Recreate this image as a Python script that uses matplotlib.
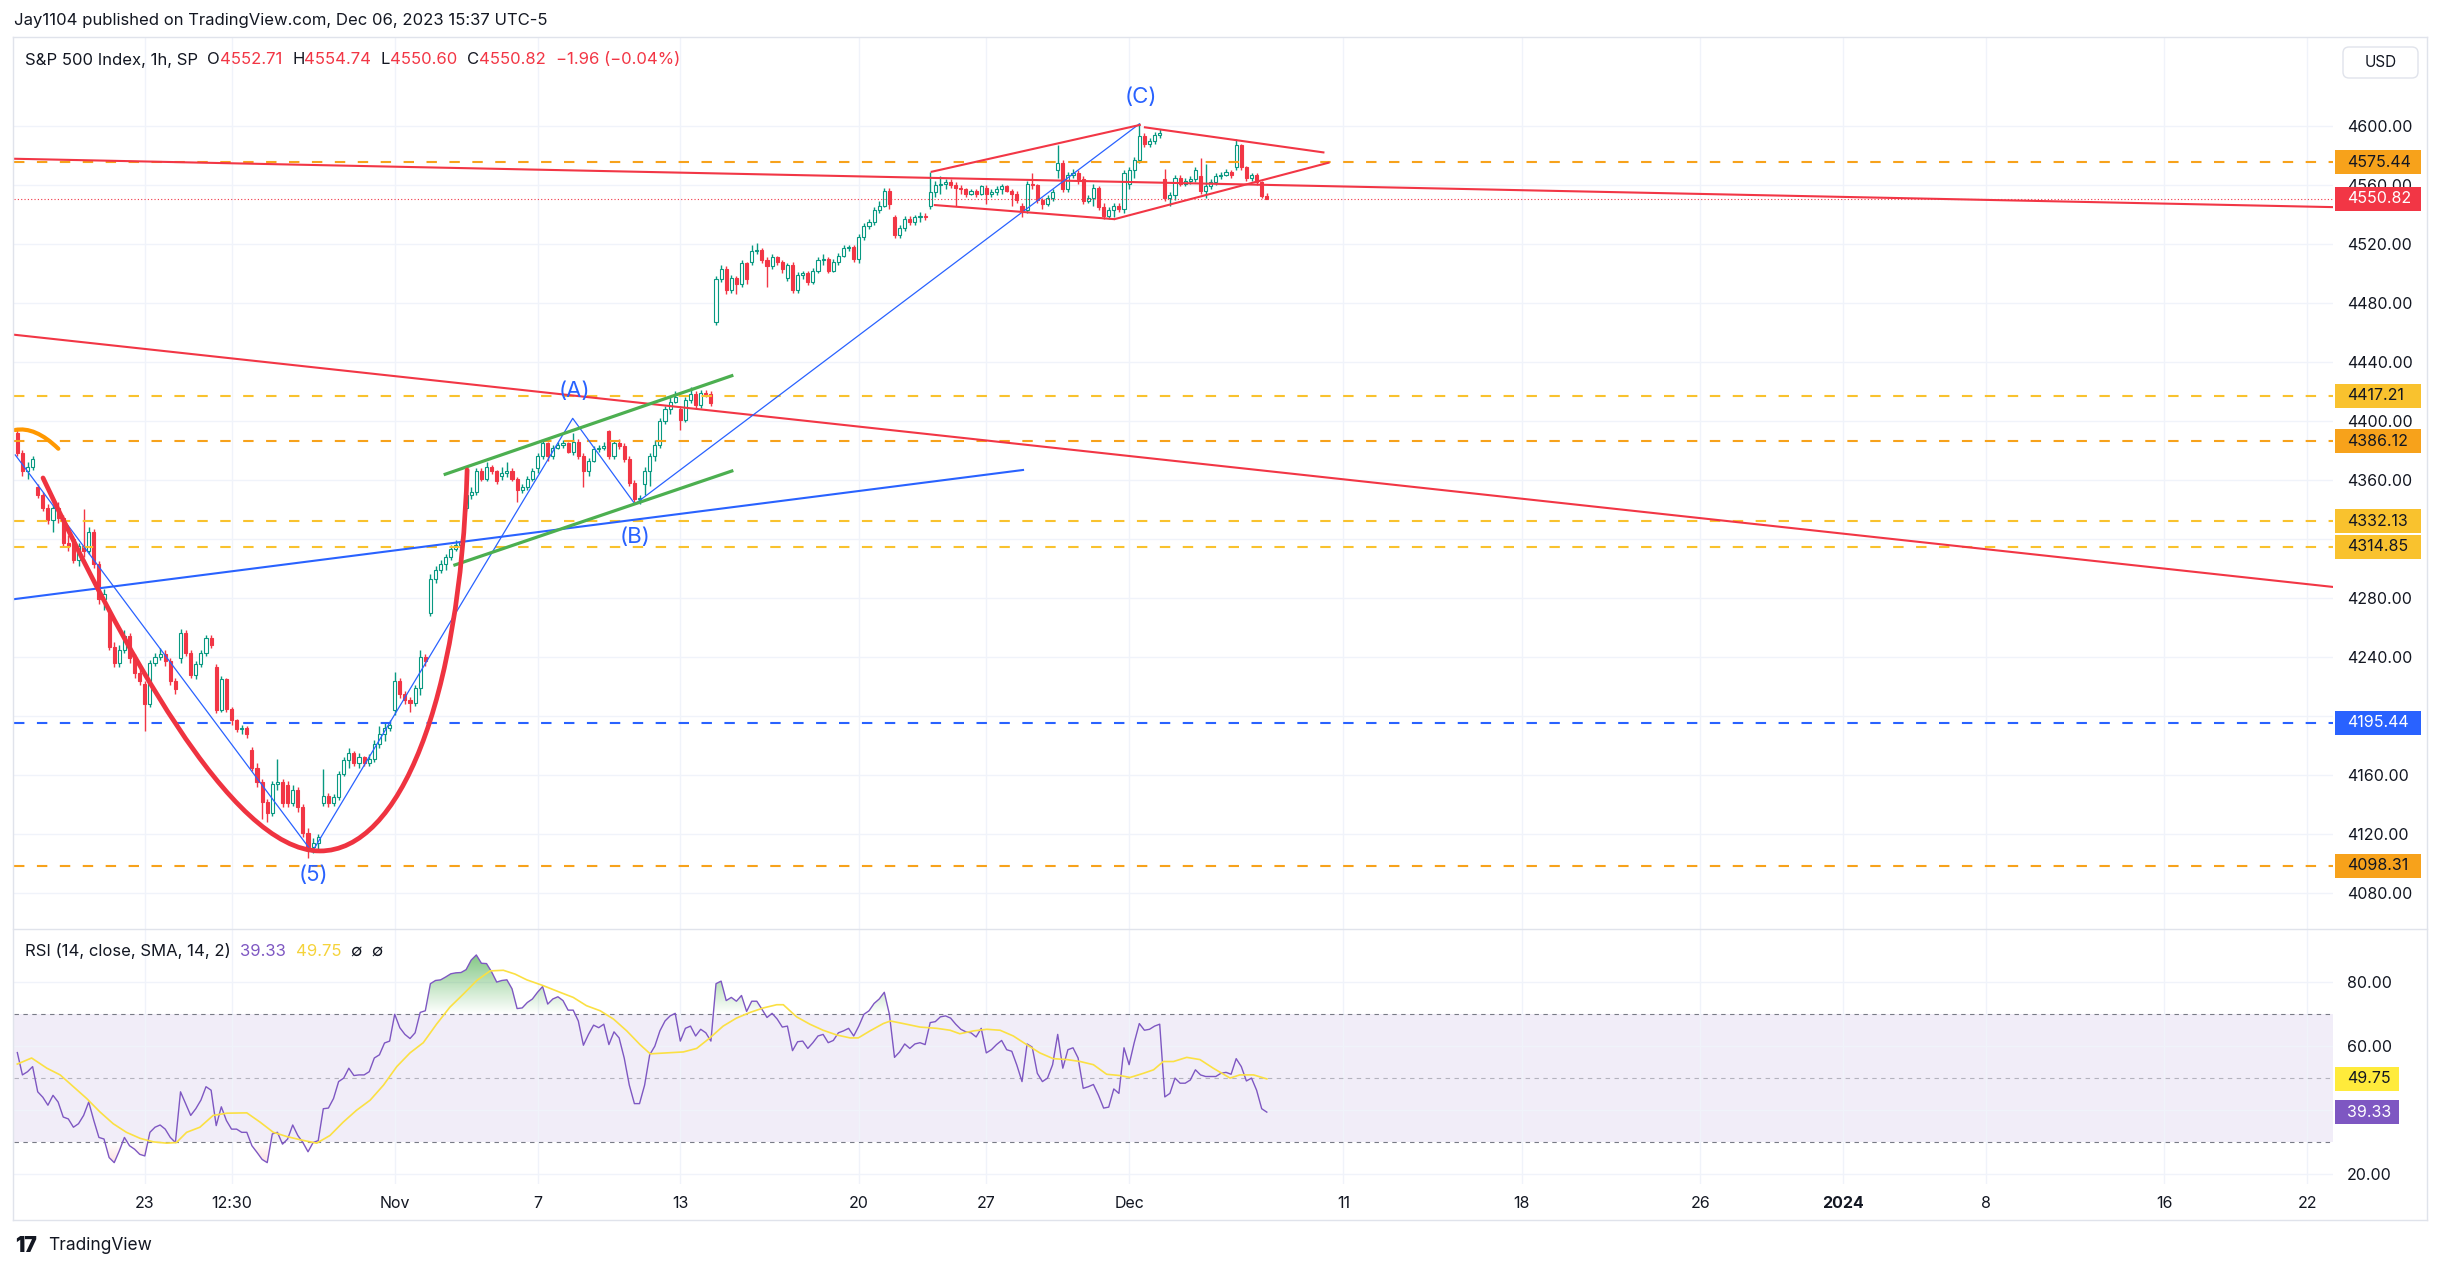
import numpy as np
import matplotlib
matplotlib.use("Agg")
import matplotlib.pyplot as plt
from matplotlib.path import Path
from matplotlib.patches import PathPatch, Rectangle, FancyBboxPatch
from matplotlib.lines import Line2D
from matplotlib.colors import LinearSegmentedColormap
from matplotlib.transforms import blended_transform_factory, IdentityTransform

plt.rcParams['font.family'] = ['Inter', 'DejaVu Sans']

# ---------------- data (x = bar index, Oct 23 09:30 = 0, 1h bars) ----------------
first_bar = -25
bars_per_day = [4, 7, 7, 7, 7, 7, 7, 7, 7, 7, 7, 7, 7, 7, 7, 7, 7, 7,
                7, 7, 7, 7, 7, 7, 7, 7, 7, 4, 7, 7, 7, 7, 7, 7, 7, 7]
day_opens = [4392, 4355, 4320, 4270, 4222, 4239, 4233, 4177, 4153, 4141, 4168, 4204,
             4270, 4341, 4363, 4368, 4379, 4393, 4357, 4408, 4467, 4508, 4497, 4509,
             4510, 4538, 4546, 4557, 4558, 4546, 4570, 4551, 4561, 4564, 4566, 4572]
closes = [
    4378, 4366, 4369, 4374,
    4350, 4341, 4333, 4341, 4334, 4317, 4315,
    4306, 4315, 4312, 4325, 4303, 4279, 4283,
    4247, 4236, 4245, 4254, 4239, 4229, 4224,
    4208, 4236, 4240, 4242, 4237, 4224, 4218,
    4256, 4243, 4228, 4235, 4243, 4253, 4248,
    4204, 4225, 4205, 4197, 4191, 4192, 4188,
    4165, 4155, 4142, 4134, 4154, 4155, 4141,
    4141, 4150, 4138, 4121, 4111, 4114, 4118,
    4146, 4141, 4145, 4161, 4170, 4175, 4168,
    4172, 4168, 4171, 4181, 4188, 4192, 4194,
    4224, 4215, 4211, 4209, 4219, 4240, 4237,
    4293, 4299, 4303, 4308, 4313, 4316, 4318,
    4350, 4352, 4366, 4361, 4369, 4366, 4359,
    4365, 4366, 4361, 4353, 4355, 4361, 4366,
    4376, 4385, 4376, 4382, 4384, 4385, 4379,
    4386, 4376, 4366, 4373, 4381, 4382, 4383,
    4376, 4385, 4383, 4374, 4358, 4347, 4348,
    4366, 4376, 4384, 4400, 4408, 4413, 4416,
    4401, 4414, 4418, 4411, 4419, 4418, 4412,
    4496, 4503, 4489, 4497, 4493, 4507, 4496,
    4515, 4516, 4509, 4505, 4511, 4508, 4503,
    4506, 4489, 4499, 4500, 4494, 4502, 4509,
    4510, 4502, 4508, 4512, 4517, 4518, 4510,
    4525, 4532, 4535, 4543, 4546, 4556, 4547,
    4526, 4531, 4537, 4535, 4538, 4539, 4538,
    4555, 4560, 4561, 4562, 4560, 4558, 4557,
    4554, 4556, 4554, 4559,
    4554, 4555, 4557, 4559, 4556, 4554, 4550,
    4543, 4561, 4560, 4550, 4547, 4551, 4555,
    4575, 4557, 4567, 4568, 4564, 4549, 4551,
    4558, 4545, 4539, 4543, 4546, 4544, 4568,
    4570, 4577, 4593, 4588, 4590, 4594, 4595,
    4551, 4553, 4565, 4561, 4563, 4564, 4570,
    4556, 4559, 4562, 4566, 4567, 4569, 4567,
    4587, 4572, 4565, 4567, 4562, 4552.71, 4550.82,
]
highs = [
    4395, 4380, 4372, 4376,
    4357, 4352, 4344, 4343, 4345, 4336, 4323,
    4322, 4317, 4340, 4328, 4327, 4305, 4286,
    4273, 4250, 4248, 4258, 4256, 4242, 4233,
    4224, 4238, 4243, 4246, 4245, 4239, 4226,
    4259, 4258, 4245, 4237, 4245, 4255, 4255,
    4235, 4227, 4226, 4206, 4198, 4194, 4193,
    4179, 4168, 4157, 4144, 4156, 4171, 4157,
    4156, 4153, 4152, 4140, 4124, 4117, 4120,
    4164, 4148, 4147, 4163, 4172, 4178, 4176,
    4175, 4173, 4174, 4184, 4193, 4196, 4197,
    4230, 4226, 4217, 4213, 4221, 4245, 4242,
    4296, 4302, 4306, 4310, 4316, 4319, 4320,
    4352, 4355, 4368, 4368, 4372, 4370, 4367,
    4369, 4372, 4368, 4362, 4357, 4363, 4368,
    4378, 4387, 4386, 4384, 4386, 4387, 4386,
    4392, 4388, 4378, 4375, 4383, 4384, 4386,
    4394, 4387, 4388, 4385, 4376, 4360, 4350,
    4369, 4378, 4387, 4402, 4410, 4416, 4420,
    4410, 4416, 4423, 4420, 4421, 4421, 4420,
    4498, 4506, 4505, 4499, 4498, 4509, 4508,
    4519, 4521, 4517, 4511, 4513, 4512, 4509,
    4507, 4508, 4501, 4502, 4502, 4504, 4511,
    4513, 4511, 4510, 4514, 4519, 4519, 4519,
    4527, 4534, 4537, 4545, 4549, 4558, 4558,
    4540, 4533, 4539, 4539, 4540, 4542, 4541,
    4569, 4563, 4566, 4564, 4564, 4562, 4560,
    4558, 4557, 4557, 4560,
    4560, 4557, 4559, 4561, 4560, 4557, 4556,
    4548, 4563, 4568, 4561, 4551, 4553, 4557,
    4587, 4577, 4569, 4571, 4570, 4566, 4553,
    4561, 4559, 4548, 4545, 4548, 4548, 4570,
    4572, 4579, 4602, 4595, 4592, 4596, 4598,
    4571, 4555, 4567, 4567, 4565, 4566, 4572,
    4578, 4574, 4564, 4568, 4569, 4571, 4570,
    4591, 4588, 4573, 4568, 4568, 4563, 4554.74,
]
lows = [
    4376, 4363, 4361, 4367,
    4348, 4339, 4330, 4325, 4331, 4315, 4312,
    4304, 4302, 4308, 4310, 4300, 4276, 4272,
    4245, 4233, 4233, 4243, 4236, 4226, 4221,
    4190, 4206, 4234, 4238, 4234, 4221, 4215,
    4236, 4241, 4226, 4225, 4233, 4241, 4246,
    4202, 4203, 4203, 4194, 4189, 4188, 4185,
    4163, 4152, 4130, 4128, 4132, 4150, 4138,
    4138, 4139, 4135, 4118, 4104, 4107, 4110,
    4139, 4138, 4139, 4143, 4159, 4165, 4166,
    4165, 4166, 4166, 4169, 4178, 4183, 4190,
    4201, 4212, 4208, 4203, 4207, 4214, 4234,
    4268, 4290, 4297, 4299, 4306, 4312, 4314,
    4339, 4347, 4350, 4359, 4359, 4364, 4357,
    4360, 4362, 4359, 4345, 4351, 4353, 4359,
    4365, 4374, 4373, 4374, 4381, 4382, 4378,
    4377, 4374, 4355, 4363, 4372, 4379, 4380,
    4374, 4374, 4381, 4372, 4356, 4345, 4344,
    4350, 4356, 4373, 4382, 4398, 4405, 4412,
    4394, 4399, 4412, 4408, 4409, 4416, 4410,
    4465, 4494, 4486, 4487, 4486, 4491, 4493,
    4506, 4513, 4507, 4491, 4503, 4506, 4500,
    4495, 4487, 4487, 4496, 4492, 4493, 4500,
    4506, 4500, 4501, 4506, 4511, 4515, 4508,
    4507, 4523, 4530, 4533, 4541, 4545, 4544,
    4524, 4524, 4529, 4533, 4533, 4535, 4536,
    4544, 4552, 4554, 4557, 4558, 4546, 4554,
    4552, 4553, 4552, 4553,
    4547, 4552, 4553, 4554, 4555, 4546, 4548,
    4538, 4541, 4557, 4548, 4544, 4546, 4549,
    4565, 4555, 4555, 4565, 4561, 4547, 4548,
    4546, 4543, 4537, 4537, 4538, 4542, 4541,
    4557, 4565, 4575, 4586, 4586, 4588, 4592,
    4549, 4546, 4550, 4559, 4559, 4561, 4562,
    4554, 4551, 4557, 4560, 4564, 4566, 4565,
    4570, 4570, 4563, 4563, 4560, 4551, 4550.60,
]
rsi = [
    58, 51, 52, 53.6, 45.7, 44, 41.5, 44.6, 42.5, 37.8, 37.2, 34.6, 35.7,
    38.3, 42.5, 36.7, 31.4, 30.9, 25.1, 23.5, 27.2, 31.4, 28.8, 27.7, 26.1,
    25.6, 33, 34.6, 35.3, 34, 31.4, 29.8, 45.7, 42, 38.3,
    40.4, 43.1, 47.3, 46.2, 35.1, 41, 36.7, 34, 34, 33,
    33, 28.8, 26.7, 24.5, 23.5, 32.5, 33, 29.3, 30.9, 35.3,
    32, 29.8, 26.9, 29.8, 30.4, 40.4, 40.6, 43.6, 48.9, 50,
    53.1, 50.8, 51, 51, 52, 56.3, 57.3, 61, 61.6, 70,
    65.8, 63.7, 62.4, 64.2, 70.6, 71.1, 79.6, 80.6, 80.8, 81.7,
    82.7, 83, 83.1, 84, 87, 88.6, 86, 85.9, 83.3, 80.1,
    80.6, 80.8, 78, 71.8,
    72, 73.7, 74.8, 76.9, 78.7, 73.2, 74.8, 75.5, 74.3, 71.3,
    71.3, 67.9, 60.3, 63.7, 66.6, 65.8, 66.9, 60.5, 64.5, 62.6,
    56.3, 47.8, 42, 42, 47.8, 57.3, 60, 64.8, 67.9, 69.5,
    70.3, 61.6, 65.6, 66.3, 63.2, 65.3, 64.2, 61.6, 79.6, 80.4,
    74.3, 75.3, 74.1, 75.9, 70.9, 74.1, 74.1, 71.6, 69, 70.3,
    68.5, 66, 66.3, 58.6, 61.4, 61.6, 59.3, 61.1, 63.2, 63.7,
    61.1, 61.8, 64.2, 64.8, 65.6, 63.2, 66.3, 70, 71.1, 73.4,
    74.8, 76.9, 70, 56.5, 58.2, 60.7, 59.3, 60.7, 61.1, 60.5,
    67.4, 67.7, 69.2, 69.5, 68.8, 66.9, 65.3, 64.5, 64.2, 62.9,
    65.6, 57.9, 58.9, 60.5, 61.8, 58.9, 58.4, 54, 48.9,
    60.7, 59.7, 51.5, 48.9, 50, 54.2, 63.7, 53.1, 58.9, 59.5,
    56.3, 46.8, 47.3, 48, 44.6, 40.6, 40.9, 46.6, 45.2, 59.5,
    54.2, 61.1, 67.1, 65, 65.3, 66.3, 66.9, 44.1, 45.2, 50,
    48.4, 48.4, 49.4, 52.6, 51, 50.5, 50.5, 50.5, 51.5, 51.8,
    51.2, 56.1, 53.6, 49.1, 50, 46.2, 40.4, 39.33,
]
rsi_sma_x = [-25, -22.2, -19.2, -16.6, -14, -11.4, -8.8, -6.2, -3.6, -0.9, 1.7, 4.3,
             6.2, 8.2, 10.8, 13.4, 16.1, 20, 22.6, 25.2, 27.8, 30.4, 33.7, 36.3,
             38.9, 41.5, 44.2, 46.8, 49.4, 52, 54.6, 57.2, 59.8, 62.5, 65.1, 67.7,
             70.3, 72.6, 74.9, 78.1, 81.4, 84, 86.6, 89.3, 91.9, 94.5, 97.1, 99.1,
             102.3, 105.6, 108.2, 110.8, 113.4, 116, 118.7, 121.3, 123.9, 125.2,
             127.8, 130.4, 133, 135.7, 138.3, 139.9, 142.2, 144.8, 146.2, 148.7,
             152, 155.3, 157.9, 159.8, 162.5, 165.1, 167.7, 170.3, 172.9, 175.5,
             178.1, 180.8, 183.4, 186, 188.6, 191.2, 193.2, 195.8, 197.8, 199.7,
             201.7, 204.3, 206.9, 209.5, 212.8, 214.7, 217.4, 220]
rsi_sma = [54.4, 56.3, 53.1, 51, 47.3, 43.6, 39.4, 35.7, 33, 31.1, 30, 29.6,
           29.8, 33, 34.6, 38.3, 39, 39.1, 36.2, 33, 31.7, 30.7, 29.6, 32,
           36.2, 39.9, 43.1, 47.8, 53.6, 57.9, 61.1, 66.9, 72.2, 76.4, 80.6, 83.6,
           83.8, 82.6, 80.8, 79, 76.9, 75.3, 72.7, 71.1, 68.5, 64.8, 60.5, 57.6,
           57.9, 58.2, 59.3, 62.6, 66.3, 68.8, 70.6, 72, 73, 73,
           69.2, 66.9, 65, 63.5, 62.6, 62.6, 64.8, 67.1, 67.9, 67.1,
           66, 65.6, 65, 63.9, 64.8, 65.3, 65, 63.2, 60.5, 57.9,
           56.1, 55.8, 55.2, 54.2, 51.2, 50.8, 50.2, 51.5, 52.6, 55.2,
           55.2, 56.5, 55.8, 53.1, 50, 51, 51, 49.75]

level_prices = [4575.44, 4417.21, 4386.12, 4332.13, 4314.85, 4195.44, 4098.31]
level_colors = ['#f7a21b', '#f9c22e', '#f7a21b', '#f9c22e', '#f9c22e', '#2962ff', '#f7a21b']
last_price = 4550.82

price_ticks = [4080, 4120, 4160, 4200, 4240, 4280, 4320, 4360, 4400, 4440, 4480,
               4520, 4560, 4600]
hidden_price_ticks = [4200, 4320]   # covered by the level tags in the original
rsi_ticks = [20, 40, 60, 80]
hidden_rsi_ticks = [40]

time_ticks = [0, 17, 49, 77, 105, 140, 165, 193, 235, 270, 305, 333, 361, 396, 424]
time_labels = ['23', '12:30', 'Nov', '7', '13', '20', '27', 'Dec', '11', '18', '26',
               '2024', '8', '16', '22']

GREEN, RED, BLUE = '#089981', '#f23645', '#2962ff'
TXT, GRID, BORDER = '#131722', '#f0f3fa', '#e0e3eb'

# ---------------- layout (pixels of the 2441x1271 picture) ----------------
W, H = 2441, 1271
L, R = 14, 2333
TOP, MID, BOT = 37, 929, 1184
XLIM = (-25.65, 429.06)

fig = plt.figure(figsize=(W / 100, H / 100), dpi=100)
fig.patch.set_facecolor('white')
ax = fig.add_axes([L / W, 1 - MID / H, (R - L) / W, (MID - TOP) / H])
ax2 = fig.add_axes([L / W, 1 - BOT / H, (R - L) / W, (BOT - MID) / H])

for a in (ax, ax2):
    for s in a.spines.values():
        s.set_visible(False)
    a.set_xticks(time_ticks)
    a.grid(True, color=GRID, lw=1)
    a.set_axisbelow(True)
    a.yaxis.tick_right()
    a.tick_params(axis='y', length=0, pad=10, labelsize=11.5, labelcolor=TXT)

ax.set_yticks(price_ticks)
ax.set_yticklabels(['' if t in hidden_price_ticks else f'{t:.2f}' for t in price_ticks])
ax.tick_params(axis='x', length=0, labelbottom=False)
ax2.set_yticks(rsi_ticks)
ax2.set_yticklabels(['' if t in hidden_rsi_ticks else f'{t:.2f}' for t in rsi_ticks])
ax2.set_xticklabels(time_labels)
ax2.tick_params(axis='x', length=0, pad=9, labelsize=11.5, labelcolor=TXT)
ax2.get_xticklabels()[time_labels.index('2024')].set_fontweight('bold')

# ---------------- candles ----------------
c = np.array(closes, dtype=float)
o = np.empty_like(c)
k = 0
for n, op in zip(bars_per_day, day_opens):
    o[k] = op
    o[k + 1:k + n] = c[k:k + n - 1]
    k += n
hi = np.maximum(np.array(highs, dtype=float), np.maximum(o, c))
lo = np.minimum(np.array(lows, dtype=float), np.minimum(o, c))
x = np.arange(len(c)) + first_bar
up = c >= o
body = np.maximum(np.abs(c - o), 0.6)
bottom = np.minimum(o, c)

ax.vlines(x, lo, hi, colors=np.where(up, GREEN, RED), lw=1.0, zorder=3)
ax.bar(x[up], body[up], bottom=bottom[up], width=0.62, facecolor='white',
       edgecolor=GREEN, lw=0.8, zorder=4)
ax.bar(x[~up], body[~up], bottom=bottom[~up], width=0.62, facecolor=RED,
       edgecolor=RED, lw=0.8, zorder=4)

# ---------------- drawings ----------------
for p, col in zip(level_prices, level_colors):
    ax.axhline(p, color=col, lw=1.5, ls=(0, (5, 6)), zorder=5)
ax.axhline(last_price, color=RED, lw=0.8, ls=(0, (1, 2)), zorder=5)

ax.plot(XLIM, [4577.8, 4545.0], color=RED, lw=1.5, zorder=6)
ax.plot(XLIM, [4458.5, 4287.5], color=RED, lw=1.5, zorder=6)
ax.plot([XLIM[0], 172.2], [4279.2, 4366.8], color=BLUE, lw=1.5, zorder=6)
ax.plot([-25.4, 32.8, 83.9, 96.1, 195.0], [4377, 4107.8, 4401.8, 4343.7, 4601.4],
        color=BLUE, lw=0.9, zorder=6)
ax.plot([58.9, 115.1], [4363.9, 4430.7], color='#4caf50', lw=2.3, zorder=6)
ax.plot([60.8, 115.1], [4302.4, 4366.1], color='#4caf50', lw=2.3, zorder=6)
# diamond
ax.plot([154.3, 195.1], [4569.0, 4600.7], color=RED, lw=1.5, zorder=6)
ax.plot([196.1, 231.1], [4599.1, 4582.1], color=RED, lw=1.5, zorder=6)
ax.plot([154.9, 189.9], [4546.4, 4536.9], color=RED, lw=1.5, zorder=6)
ax.plot([190.2, 232.1], [4536.9, 4575.1], color=RED, lw=1.5, zorder=6)

cup = Path([(-19.96, 4361.4), (-4.86, 4251.5), (16.7, 4108.5), (34.35, 4108.5),
            (50.04, 4108.5), (61.8, 4210.8), (63.2, 4366.8)],
           [Path.MOVETO] + [Path.CURVE4] * 6)
ax.add_patch(PathPatch(cup, fill=False, edgecolor='#ef3340', lw=3.4, zorder=6,
                       capstyle='round'))
arc = Path([(-25.45, 4393.9), (-21.5, 4396.5), (-16.96, 4381.2)],
           [Path.MOVETO, Path.CURVE3, Path.CURVE3])
ax.add_patch(PathPatch(arc, fill=False, edgecolor='#ff9800', lw=3.0, zorder=6,
                       capstyle='round'))

for lbl, xi, yp in [('(C)', 195.3, 4620), ('(A)', 84.25, 4420.5),
                    ('(B)', 96.1, 4321.4), ('(5)', 33, 4092.2)]:
    ax.text(xi, yp, lbl, color=BLUE, fontsize=16, ha='center', va='center', zorder=7)

# ---------------- RSI ----------------
xr = np.arange(len(rsi)) + first_bar
rv = np.array(rsi, dtype=float)
ax2.axhspan(30, 70, color='#7e57c2', alpha=0.1, lw=0, zorder=0)
for lv, al in [(70, 1.0), (30, 1.0), (50, 0.5)]:
    ax2.axhline(lv, color='#787b86', alpha=al, lw=0.8, ls=(0, (4, 4)), zorder=1)


def gradient_fill(a, y2, where, c0, c1, y_lo, y_hi):
    poly = a.fill_between(xr, rv, y2, where=where, interpolate=True,
                          facecolor='none', edgecolor='none')
    clip = Path.make_compound_path(*poly.get_paths())
    cmap = LinearSegmentedColormap.from_list('g', [c0, c1])
    img = a.imshow(np.linspace(0, 1, 100).reshape(-1, 1), extent=[xr[0], xr[-1], y_lo, y_hi],
                   origin='lower', cmap=cmap, aspect='auto', zorder=1, interpolation='bilinear')
    img.set_clip_path(clip, a.transData)


gradient_fill(ax2, 70, rv >= 70, (0.30, 0.69, 0.31, 0.0), (0.30, 0.69, 0.31, 0.75), 70, 90)
gradient_fill(ax2, 30, rv <= 30, (0.95, 0.21, 0.27, 0.25), (0.95, 0.21, 0.27, 0.0), 20, 30)
ax2.plot(xr, rv, color='#7e57c2', lw=1.0, zorder=3)
ax2.plot(rsi_sma_x, rsi_sma, color='#fbe043', lw=1.2, zorder=3)

for a in (ax, ax2):
    a.set_xlim(*XLIM)
ax.set_ylim(4055.59, 4660.34)
ax2.set_ylim(16.8, 96.74)


# ---------------- price tags ----------------
def tag(a, y, text, fc, tc, x1=2421):
    ppu = a.bbox.height / (a.get_ylim()[1] - a.get_ylim()[0])
    tr = blended_transform_factory(fig.transFigure, a.transData)
    a.add_patch(Rectangle((2335 / W, y - 12 / ppu), (x1 - 2335) / W, 24 / ppu,
                          transform=tr, facecolor=fc, edgecolor='none',
                          clip_on=False, zorder=10))
    a.text(2347 / W, y, text, transform=tr, color=tc, fontsize=11.5, va='center',
           ha='left', clip_on=False, zorder=11)


for p, col in zip(level_prices, level_colors):
    tag(ax, p, f'{p:.2f}', col, 'white' if col == BLUE else TXT)
tag(ax, last_price, f'{last_price:.2f}', RED, 'white')
tag(ax2, rsi_sma[-1], f'{rsi_sma[-1]:.2f}', '#ffeb3b', TXT, x1=2399)
tag(ax2, rsi[-1], f'{rsi[-1]:.2f}', '#7e57c2', 'white', x1=2399)


# ---------------- frame & texts ----------------
def hline(y, x0, x1):
    fig.add_artist(Line2D([x0 / W, x1 / W], [1 - y / H, 1 - y / H], color=BORDER, lw=1))


def vline(xp, y0, y1):
    fig.add_artist(Line2D([xp / W, xp / W], [1 - y0 / H, 1 - y1 / H], color=BORDER, lw=1))


hline(TOP, 13, 2427)
hline(MID, 13, 2427)
hline(1220, 13, 2427)
vline(13, TOP, 1220)
vline(2427, TOP, 1220)

fig.add_artist(FancyBboxPatch((2343, H - 78), 75, 31, boxstyle='round,pad=0,rounding_size=6',
                              transform=IdentityTransform(), facecolor='white',
                              edgecolor=BORDER, lw=1))
fig.text(2380.5 / W, 1 - 62.5 / H, 'USD', fontsize=11, color=TXT, ha='center', va='center')

renderer = fig.canvas.get_renderer()


def run(xp, yp, parts, size):
    for s, col in parts:
        t = fig.text(xp / W, 1 - yp / H, s, color=col, fontsize=size, ha='left', va='center')
        xp += t.get_window_extent(renderer).width


run(14, 21, [('Jay1104 published on TradingView.com, Dec 06, 2023 15:37 UTC-5', TXT)], 12)
run(25, 60, [('S&P 500 Index, 1h, SP  ', TXT), ('O', TXT), ('4552.71  ', RED),
             ('H', TXT), ('4554.74  ', RED), ('L', TXT), ('4550.60  ', RED),
             ('C', TXT), ('4550.82  ', RED), ('\u22121.96 (\u22120.04%)', RED)], 12)
run(25, 951, [('RSI (14, close, SMA, 14, 2)  ', TXT), ('39.33  ', '#7e57c2'),
              ('49.75  ', '#f5d33b'), ('\u2205  \u2205', TXT)], 12)
run(15, 1246, [('17', TXT)], 15)
fig.texts[-1].set_fontweight('black')
run(48, 1246, [('TradingView', TXT)], 12.5)

fig.savefig('out.png', dpi=100, facecolor='white')
